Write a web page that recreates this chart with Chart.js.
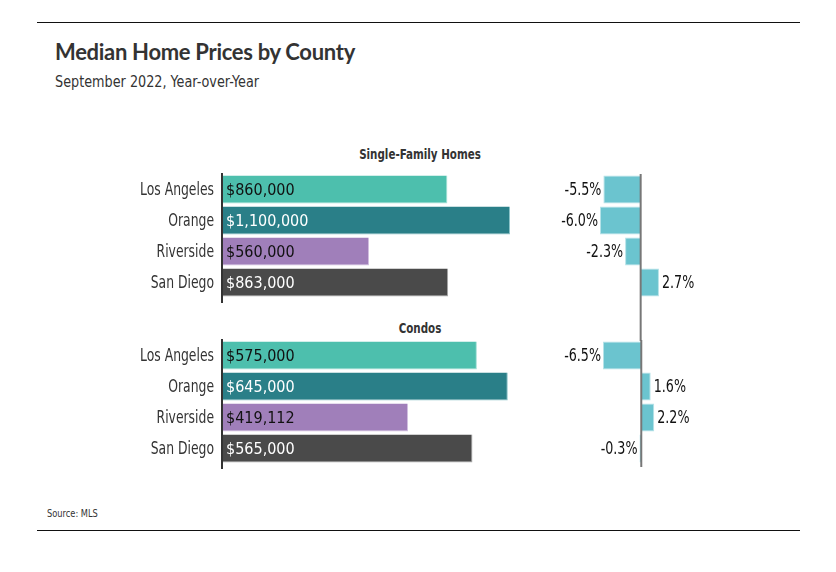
<!DOCTYPE html>
<html>
<head>
<meta charset="utf-8">
<script src="https://cdn.jsdelivr.net/npm/chart.js@4.4.0/dist/chart.umd.min.js"></script>
<style>
  html, body { margin: 0; padding: 0; background: #fff; }
  body { width: 836px; height: 572px; position: relative; overflow: hidden;
         font-family: "DejaVu Sans Condensed", "DejaVu Sans", sans-serif; color: #333; }
  .rule { position: absolute; left: 37px; width: 763px; height: 1px; background: #111; }
  .abs { position: absolute; white-space: nowrap; }
  #title { left: 55px; top: 38px; font: bold 22px Lato, "Open Sans", sans-serif; color: #333; letter-spacing: -0.3px; }
  #subtitle { left: 55px; top: 72px; font-size: 16px; color: #333; transform: scaleX(0.89); transform-origin: left center; }
  .panel { font-weight: bold; font-size: 14px; color: #333; width: 200px; text-align: center; left: 320px;
           transform: scaleX(0.82); transform-origin: center center; }
  #source { left: 47px; top: 508px; font-size: 10px; color: #333; transform: scaleX(0.92); transform-origin: left center; }
</style>
</head>
<body>
<div class="rule" style="top:22px"></div>
<div class="rule" style="top:530px"></div>
<div id="title" class="abs">Median Home Prices by County</div>
<div id="subtitle" class="abs">September 2022, Year-over-Year</div>
<div class="abs panel" style="top:146px">Single-Family Homes</div>
<div class="abs panel" style="top:320px">Condos</div>
<div id="source" class="abs">Source: MLS</div>

<div class="abs" style="left:100px; top:172px; width:420px; height:132px"><canvas id="sfPrice"></canvas></div>
<div class="abs" style="left:100px; top:338px; width:420px; height:132px"><canvas id="condoPrice"></canvas></div>
<div class="abs" style="left:540px; top:174px; width:180px; height:167px"><canvas id="sfChange"></canvas></div>
<div class="abs" style="left:540px; top:340px; width:180px; height:128px"><canvas id="condoChange"></canvas></div>

<script>
'use strict';

// ─── Data ───
const counties = ['Los Angeles', 'Orange', 'Riverside', 'San Diego'];
const sfPrices = [860000, 1100000, 560000, 863000];
const condoPrices = [575000, 645000, 419112, 565000];
const sfChange = [-5.5, -6.0, -2.3, 2.7];
const condoChange = [-6.5, 1.6, 2.2, -0.3];

const barColors = ['#4dbfad', '#2a7f88', '#a07fba', '#4a4a4a'];
const barBorders = ['#a6e0d6', '#8cc3c8', '#d2c0e0', '#a9a9a9'];
const labelColors = ['#111', '#fff', '#111', '#fff'];
const changeColor = '#6bc4cf';

const FONT = '"DejaVu Sans Condensed", "DejaVu Sans", sans-serif';

const fmtMoney = v => '$' + v.toLocaleString('en-US');
const fmtPct = v => v.toFixed(1) + '%';

// narrow text: squeeze horizontally to mimic a condensed face
function narrowText(ctx, text, x, y, align, sx) {
  ctx.save();
  ctx.translate(x, y);
  ctx.scale(sx, 1);
  ctx.textAlign = align;
  ctx.fillText(text, 0, 0);
  ctx.restore();
}

// axis line, category labels + labels inside price bars
const priceLabels = {
  id: 'priceLabels',
  afterDatasetsDraw(chart) {
    const ctx = chart.ctx;
    const area = chart.chartArea;
    const meta = chart.getDatasetMeta(0);
    const data = chart.data.datasets[0].data;
    ctx.save();
    ctx.strokeStyle = '#333';
    ctx.lineWidth = 2;
    ctx.beginPath();
    ctx.moveTo(area.left - 1, area.top - 1);
    ctx.lineTo(area.left - 1, area.bottom + 5);
    ctx.stroke();

    ctx.textBaseline = 'middle';
    meta.data.forEach((bar, i) => {
      ctx.font = '17px ' + FONT;
      ctx.fillStyle = '#333';
      narrowText(ctx, chart.data.labels[i], area.left - 9, bar.y + 1, 'right', 0.81);
      ctx.font = '16px ' + FONT;
      ctx.fillStyle = labelColors[i];
      narrowText(ctx, fmtMoney(data[i]), bar.base + 3, bar.y + 1, 'left', 1.0);
    });
    ctx.restore();
  }
};

// labels beside change bars + zero line
const changeLabels = {
  id: 'changeLabels',
  afterDatasetsDraw(chart, args, opts) {
    const ctx = chart.ctx;
    const xs = chart.scales.x;
    const x0 = xs.getPixelForValue(0);
    ctx.save();
    ctx.strokeStyle = '#777';
    ctx.lineWidth = 2;
    ctx.beginPath();
    ctx.moveTo(x0, chart.chartArea.top - 1);
    ctx.lineTo(x0, opts.lineTo === 'bottom' ? chart.height : chart.chartArea.bottom + 3);
    ctx.stroke();

    const meta = chart.getDatasetMeta(0);
    const data = chart.data.datasets[0].data;
    ctx.font = '17px ' + FONT;
    ctx.fillStyle = '#111';
    ctx.textBaseline = 'middle';
    meta.data.forEach((bar, i) => {
      const v = data[i];
      if (v < 0) narrowText(ctx, fmtPct(v), bar.x - 2, bar.y + 1, 'right', 0.83);
      else narrowText(ctx, fmtPct(v), bar.x + 3, bar.y + 1, 'left', 0.83);
    });
    ctx.restore();
  }
};

function priceChart(id, values, max) {
  return new Chart(document.getElementById(id), {
    type: 'bar',
    data: {
      labels: counties,
      datasets: [{
        data: values,
        backgroundColor: barColors,
        borderColor: barBorders,
        borderWidth: { top: 0, left: 0, right: 1, bottom: 1 },
        borderSkipped: false,
        categoryPercentage: 1,
        barPercentage: 0.9,
      }],
    },
    options: {
      indexAxis: 'y',
      responsive: true,
      maintainAspectRatio: false,
      animation: false,
      layout: { padding: { right: 10, top: 2, bottom: 6 } },
      plugins: { legend: { display: false }, tooltip: { enabled: false } },
      scales: {
        x: { display: false, min: 0, max: max },
        y: {
          grid: { display: false },
          border: { display: false },
          ticks: { display: false },
          afterFit(scale) {
            scale.width = 123;
            scale.paddingTop = 0;
            scale.paddingBottom = 0;
          },
        },
      },
    },
    plugins: [priceLabels],
  });
}

function changeChart(id, values, min, max, padL, padR, padB, lineTo) {
  return new Chart(document.getElementById(id), {
    type: 'bar',
    data: {
      labels: counties,
      datasets: [{
        data: values,
        backgroundColor: changeColor,
        borderColor: '#b5e2e8',
        borderWidth: 1,
        borderSkipped: 'start',
        categoryPercentage: 1,
        barPercentage: 0.9,
      }],
    },
    options: {
      indexAxis: 'y',
      responsive: true,
      maintainAspectRatio: false,
      animation: false,
      layout: { padding: { left: padL, right: padR, top: 0, bottom: padB } },
      plugins: { legend: { display: false }, tooltip: { enabled: false }, changeLabels: { lineTo } },
      scales: {
        x: { display: false, min: min, max: max },
        y: { display: false },
      },
    },
    plugins: [changeLabels],
  });
}

priceChart('sfPrice', sfPrices, 1100000);
priceChart('condoPrice', condoPrices, 650000);
changeChart('sfChange', sfChange, -6, 3, 60, 59, 43, 'bottom');
changeChart('condoChange', condoChange, -6.5, 2.5, 63, 64, 4, 'area');
</script>
</body>
</html>
